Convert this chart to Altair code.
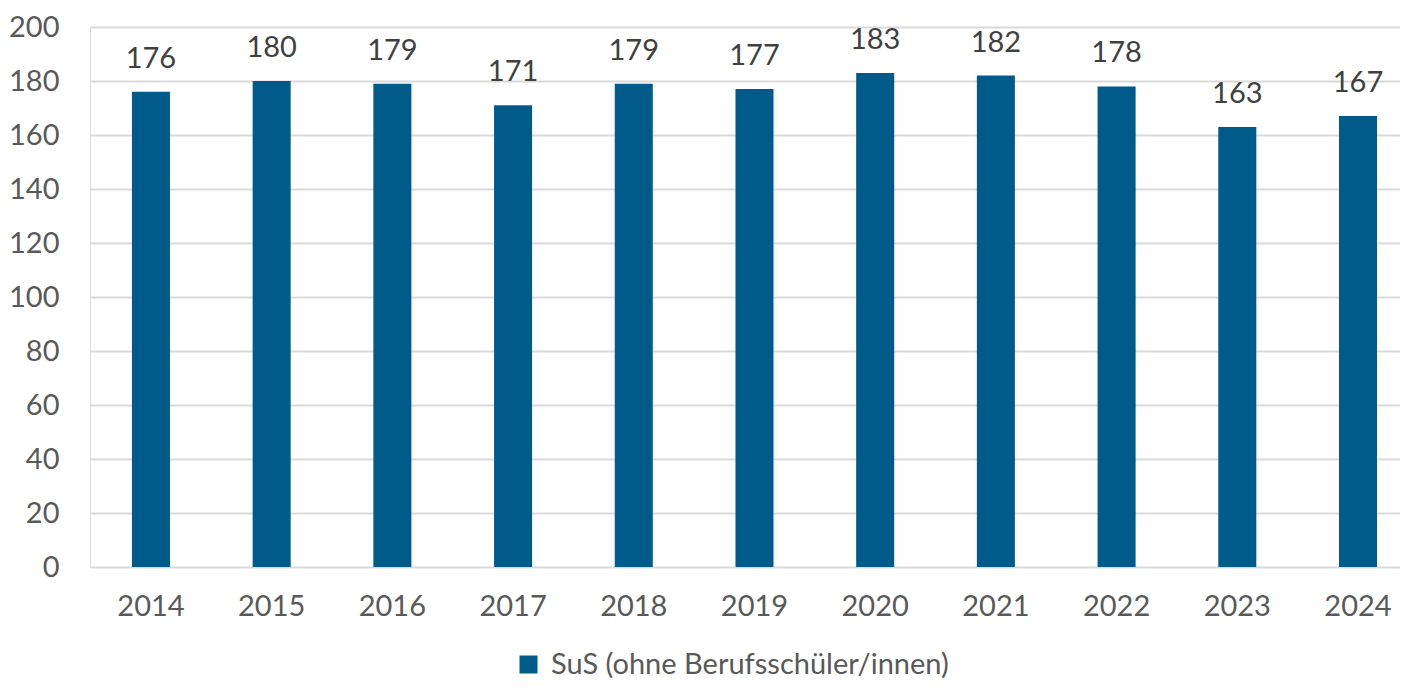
import altair as alt
import pandas as pd

years = ["2014", "2015", "2016", "2017", "2018", "2019", "2020", "2021", "2022", "2023", "2024"]
values = [176, 180, 179, 171, 179, 177, 183, 182, 178, 163, 167]
series_name = "SuS (ohne Berufsschüler/innen)"
y_ticks = [0, 20, 40, 60, 80, 100, 120, 140, 160, 180, 200]

df = pd.DataFrame({"Jahr": years, "Wert": values, "Serie": [series_name] * len(years)})

FONT = "Lato"
BAR = "#005B8A"
FS = 29

x = alt.X(
    "Jahr:N",
    sort=years,
    title=None,
    scale=alt.Scale(paddingInner=0.685, paddingOuter=0.269, align=0.646),
    axis=alt.Axis(
        labelAngle=0,
        labelFontSize=FS,
        labelColor="#595959",
        labelFont=FONT,
        labelPadding=25,
        ticks=False,
        tickSize=0,
        domain=False,
        grid=False,
    ),
)
y = alt.Y(
    "Wert:Q",
    title=None,
    scale=alt.Scale(domain=[0, 200], nice=False),
    axis=alt.Axis(
        values=y_ticks,
        labelFontSize=FS,
        labelColor="#595959",
        labelFont=FONT,
        labelPadding=31,
        ticks=False,
        tickSize=0,
        domain=False,
        grid=True,
        gridColor="#d9d9d9",
        gridWidth=2,
    ),
)

bars = alt.Chart(df).mark_bar().encode(
    x=x,
    y=y,
    color=alt.Color(
        "Serie:N",
        scale=alt.Scale(domain=[series_name], range=[BAR]),
        legend=alt.Legend(
            title=None,
            orient="none",
            legendX=424,
            legendY=623,
            symbolType="square",
            symbolSize=324,
            symbolStrokeWidth=0,
            labelFontSize=FS,
            labelFont=FONT,
            labelColor="#595959",
            labelOffset=8,
            labelLimit=0,
            padding=0,
        ),
    ),
)

labels = alt.Chart(df).mark_text(
    baseline="alphabetic", dy=-24, fontSize=FS, font=FONT, color="#404040"
).encode(x=alt.X("Jahr:N", sort=years), y="Wert:Q", text="Wert:Q")

chart = (
    alt.layer(bars, labels)
    .properties(
        width=1310,
        height=540,
        autosize=alt.AutoSizeParams(type="none"),
        padding={"left": 82, "top": 19, "right": 0, "bottom": 115},
    )
    .configure_view(stroke=None)
    .configure(background="white")
)

chart.save("out.html", embed_options={"renderer": "svg", "actions": False})
